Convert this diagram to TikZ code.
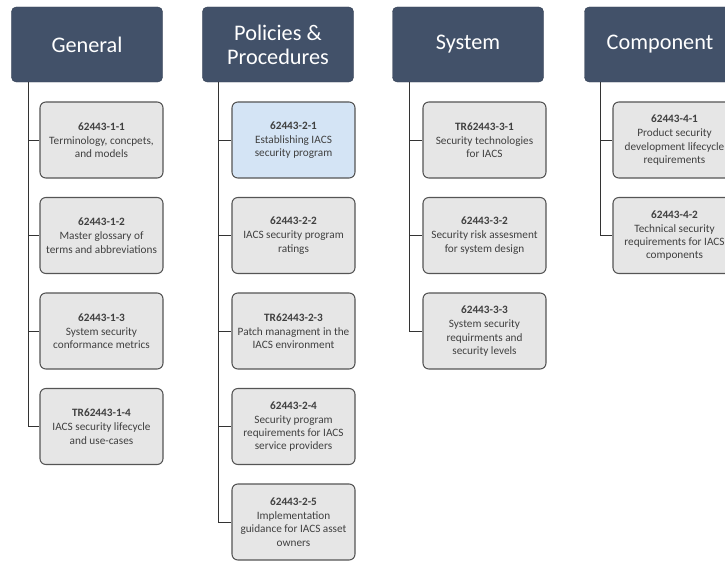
\documentclass[tikz,border=0pt]{standalone}
\usepackage{fontspec}
\setmainfont{Carlito}
\usepackage{xcolor}
\usepackage{tikz}
\usetikzlibrary{positioning}

\definecolor{headblue}{HTML}{425169}
\definecolor{boxgray}{HTML}{E6E6E6}
\definecolor{boxblue}{HTML}{D4E4F5}
\definecolor{edgegray}{HTML}{555555}

\begin{document}
\begin{tikzpicture}[x=0.03cm, y=-0.03cm, font=\fontsize{9.6}{11.2}\selectfont]
		\tikzstyle{head} = [draw=headblue!80!black, fill=headblue, rounded corners=4pt, minimum width=4.53cm, minimum height=2.25cm, text=white, align=center, font=\fontsize{19}{20.5}\selectfont]
		\tikzstyle{part} = [draw=edgegray, line width=0.9pt, fill=boxgray, rounded corners=5pt, minimum width=3.69cm, minimum height=2.28cm, text=black!75, align=center, inner sep=1pt]
		\tikzstyle{line} = [line width=0.8pt, draw=black!80]
		
		\useasboundingbox (0, 0) rectangle (725, 561);
		\clip (0, 0) rectangle (725, 561);
		
		\node[head]	at (87, 44.5)		(gen)	{General};
		\node[head]	at (278, 44.5)		(pol)	{Policies \&\\Procedures};
		\node[head]	at (468, 44.5)		(sys)	{System};
		\node[head]	at (660, 44.5)		(com)	{Component};
		
		\node[part]	at (101.5, 140)		(g1)	{\textbf{62443-1-1}\\[1pt]Terminology, concpets,\\and models};
		\node[part]	at (101.5, 235.5)	(g2)	{\textbf{62443-1-2}\\[1pt]Master glossary of\\terms and abbreviations};
		\node[part]	at (101.5, 331)		(g3)	{\textbf{62443-1-3}\\[1pt]System security\\conformance metrics};
		\node[part]	at (101.5, 426.5)	(g4)	{\textbf{TR62443-1-4}\\[1pt]IACS security lifecycle\\and use-cases};
		
		\node[part, fill=boxblue]	at (293.5, 140)	(p1)	{\textbf{62443-2-1}\\[1pt]Establishing IACS\\security program};
		\node[part]	at (293.5, 235.5)	(p2)	{\textbf{62443-2-2}\\[1pt]IACS security program\\ratings};
		\node[part]	at (293.5, 331)		(p3)	{\textbf{TR62443-2-3}\\[1pt]Patch managment in the\\IACS environment};
		\node[part]	at (293.5, 426.5)	(p4)	{\textbf{62443-2-4}\\[1pt]Security program\\requirements for IACS\\service providers};
		\node[part]	at (293.5, 522)		(p5)	{\textbf{62443-2-5}\\[1pt]Implementation\\guidance for IACS asset\\owners};
		
		\node[part]	at (484.5, 140)		(s1)	{\textbf{TR62443-3-1}\\[1pt]Security technologies\\for IACS};
		\node[part]	at (484.5, 235.5)	(s2)	{\textbf{62443-3-2}\\[1pt]Security risk assesment\\for system design};
		\node[part]	at (484.5, 331)		(s3)	{\textbf{62443-3-3}\\[1pt]System security\\requirments and\\security levels};
		
		\node[part]	at (674.5, 140)		(c1)	{\textbf{62443-4-1}\\[1pt]Product security\\development lifecycle\\requirements};
		\node[part]	at (674.5, 235.5)	(c2)	{\textbf{62443-4-2}\\[1pt]Technical security\\requirements for IACS\\components};
		
		\draw [line] ([xshift=15]gen.south west) |- (g1.west);
		\draw [line] ([xshift=15]gen.south west) |- (g2.west);
		\draw [line] ([xshift=15]gen.south west) |- (g3.west);
		\draw [line] ([xshift=15]gen.south west) |- (g4.west);
		
		\draw [line] ([xshift=14]pol.south west) |- (p1.west);
		\draw [line] ([xshift=14]pol.south west) |- (p2.west);
		\draw [line] ([xshift=14]pol.south west) |- (p3.west);
		\draw [line] ([xshift=14]pol.south west) |- (p4.west);
		\draw [line] ([xshift=14]pol.south west) |- (p5.west);
		
		\draw [line] ([xshift=15]sys.south west) |- (s1.west);
		\draw [line] ([xshift=15]sys.south west) |- (s2.west);
		\draw [line] ([xshift=15]sys.south west) |- (s3.west);
		
		\draw [line] ([xshift=14]com.south west) |- (c1.west);
		\draw [line] ([xshift=14]com.south west) |- (c2.west);
	\end{tikzpicture}
\end{document}
